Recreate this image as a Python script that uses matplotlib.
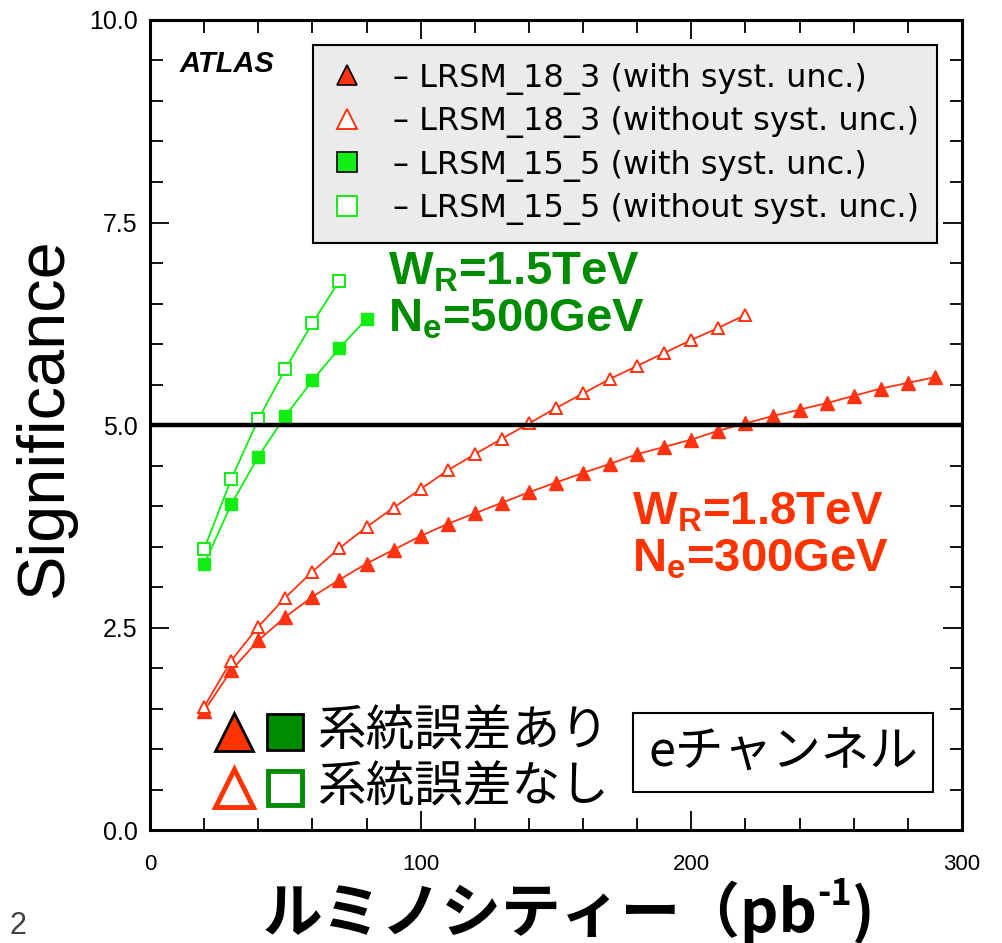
import matplotlib
matplotlib.use("Agg")
import matplotlib.pyplot as plt
from matplotlib.lines import Line2D
from matplotlib.text import Annotation
from matplotlib.ticker import MultipleLocator, FormatStrFormatter

plt.rcParams["font.family"] = ["Liberation Sans", "DejaVu Sans"]

RED = "#ff3311"
GREEN = "#11ee11"
TEXT_GREEN = "#008c00"
TEXT_RED = "#ff3300"
CJK = ["Noto Sans CJK JP", "DejaVu Sans"]

# significance vs integrated luminosity (pb^-1)
lumi_18_3 = [20, 30, 40, 50, 60, 70, 80, 90, 100, 110, 120, 130, 140, 150,
             160, 170, 180, 190, 200, 210, 220, 230, 240, 250, 260, 270, 280, 290]
sig_18_3_syst = [1.47, 1.97, 2.34, 2.63, 2.88, 3.09, 3.29, 3.46, 3.63, 3.78,
                 3.91, 4.04, 4.17, 4.29, 4.41, 4.52, 4.64, 4.73, 4.82, 4.93,
                 5.02, 5.11, 5.19, 5.27, 5.36, 5.45, 5.52, 5.59]

lumi_18_3_nosyst = [20, 30, 40, 50, 60, 70, 80, 90, 100, 110, 120, 130, 140,
                    150, 160, 170, 180, 190, 200, 210, 220]
sig_18_3_nosyst = [1.52, 2.09, 2.51, 2.87, 3.19, 3.48, 3.74, 3.98, 4.21, 4.44,
                   4.64, 4.83, 5.02, 5.21, 5.39, 5.57, 5.73, 5.89, 6.05, 6.20, 6.36]

lumi_15_5 = [20, 30, 40, 50, 60, 70, 80]
sig_15_5_syst = [3.28, 4.02, 4.61, 5.11, 5.55, 5.95, 6.31]

lumi_15_5_nosyst = [20, 30, 40, 50, 60, 70]
sig_15_5_nosyst = [3.47, 4.33, 5.07, 5.69, 6.26, 6.78]

discovery_level = 5.0

legend_labels = [
    "– LRSM_18_3 (with syst. unc.)",
    "– LRSM_18_3 (without syst. unc.)",
    "– LRSM_15_5 (with syst. unc.)",
    "– LRSM_15_5 (without syst. unc.)",
]
key_labels = ["系統誤差あり", "系統誤差なし"]
channel_label = "eチャンネル"

fig = plt.figure(figsize=(10.02, 9.43), dpi=100)
ax = fig.add_axes([0.1497, 0.1198, 0.8104, 0.859])

ax.plot(lumi_18_3, sig_18_3_syst, color=RED, lw=1.3, marker="^", ms=10,
        mfc=RED, mec=RED, zorder=4)
ax.plot(lumi_18_3_nosyst, sig_18_3_nosyst, color=RED, lw=1.3, marker="^", ms=9,
        mfc="white", mec=RED, mew=1.4, zorder=4)
ax.plot(lumi_15_5, sig_15_5_syst, color=GREEN, lw=1.3, marker="s", ms=9,
        mfc=GREEN, mec=GREEN, zorder=4)
ax.plot(lumi_15_5_nosyst, sig_15_5_nosyst, color=GREEN, lw=1.3, marker="s", ms=9,
        mfc="white", mec=GREEN, mew=1.4, zorder=4)
ax.axhline(discovery_level, color="black", lw=3.2, zorder=5)

ax.set_xlim(0, 300)
ax.set_ylim(0, 10)
ax.set_xticks([0, 100, 200, 300])
ax.set_yticks([0, 2.5, 5, 7.5, 10])
ax.xaxis.set_minor_locator(MultipleLocator(20))
ax.yaxis.set_minor_locator(MultipleLocator(0.5))
ax.yaxis.set_major_formatter(FormatStrFormatter("%.1f"))
ax.tick_params(which="both", direction="in", top=True, right=True, width=1.3)
ax.tick_params(which="major", length=14)
ax.tick_params(which="minor", length=9)
ax.tick_params(axis="x", which="major", labelsize=16, pad=17)
ax.tick_params(axis="y", which="major", labelsize=18, pad=9)
for sp in ax.spines.values():
    sp.set_linewidth(2.2)

ax.set_ylabel("Significance", fontsize=48)
ax.yaxis.set_label_coords(-0.091, 0.508)

handles = [
    Line2D([], [], ls="none", marker="^", ms=15, mfc=RED, mec="black", mew=1.2),
    Line2D([], [], ls="none", marker="^", ms=15, mfc="white", mec=RED, mew=1.4),
    Line2D([], [], ls="none", marker="s", ms=14, mfc=GREEN, mec="black", mew=1.2),
    Line2D([], [], ls="none", marker="s", ms=14, mfc="white", mec=GREEN, mew=1.4),
]
leg = ax.legend(handles, legend_labels, loc="upper right",
                bbox_to_anchor=(0.969, 0.969), borderaxespad=0,
                fancybox=False, facecolor="#ebebeb", edgecolor="black",
                framealpha=1, prop={"family": "DejaVu Sans", "size": 23},
                handlelength=1.0, handletextpad=0.95, labelspacing=0.36,
                borderpad=0.55)
leg.get_frame().set_linewidth(1.5)

ax.text(11, 9.36, "ATLAS", fontsize=21, fontweight="bold", fontstyle="italic")

ax.text(88, 6.74, r"W$_\mathregular{R}$=1.5TeV", color=TEXT_GREEN,
        fontsize=34, fontweight="bold")
ax.text(88, 6.15, r"N$_\mathregular{e}$=500GeV", color=TEXT_GREEN,
        fontsize=34, fontweight="bold")
ax.text(178, 3.77, r"W$_\mathregular{R}$=1.8TeV", color=TEXT_RED,
        fontsize=34, fontweight="bold")
ax.text(178, 3.19, r"N$_\mathregular{e}$=300GeV", color=TEXT_RED,
        fontsize=34, fontweight="bold")

# marker key in the lower left corner
key_style = dict(transform=ax.transAxes, clip_on=False, ls="none", zorder=6)
ax.plot([0.1034], [0.121], marker="^", ms=28, mfc=TEXT_RED, mec="black",
        mew=2, **key_style)
ax.plot([0.166], [0.121], marker="s", ms=26, mfc=TEXT_GREEN, mec="black",
        mew=2, **key_style)
ax.plot([0.1034], [0.052], marker="^", ms=27, mfc="white", mec=TEXT_RED,
        mew=3.5, **key_style)
ax.plot([0.166], [0.052], marker="s", ms=25, mfc="white", mec=TEXT_GREEN,
        mew=3.5, **key_style)
ax.text(0.206, 0.121, key_labels[0], transform=ax.transAxes, va="center",
        fontsize=35, family=CJK)
ax.text(0.206, 0.052, key_labels[1], transform=ax.transAxes, va="center",
        fontsize=35, family=CJK)

ax.text(0.7796, 0.096, channel_label, transform=ax.transAxes, ha="center",
        va="center", fontsize=35, family=CJK,
        bbox=dict(boxstyle="square,pad=0.3", fc="white", ec="black", lw=1.5))

# x axis title built from pieces so the exponent keeps a plain hyphen
xl = fig.text(0.262, 0.012, "ルミノシティー（pb", ha="left", va="baseline",
              fontsize=43, fontweight="bold", family=CJK)
sup = fig.add_artist(Annotation(
    "-1", xy=(1.0, 0.5), xycoords=xl, va="bottom", ha="left",
    fontsize=26, fontweight="bold", family=CJK))
fig.add_artist(Annotation(
    ")", xy=(1.0, 0.0), xycoords=(sup, xl), va="bottom", ha="left",
    fontsize=43, fontweight="bold", family=CJK))

fig.text(0.009, 0.002, "2", fontsize=22, color="#444444", va="bottom")

fig.savefig("out.png", dpi=100)
